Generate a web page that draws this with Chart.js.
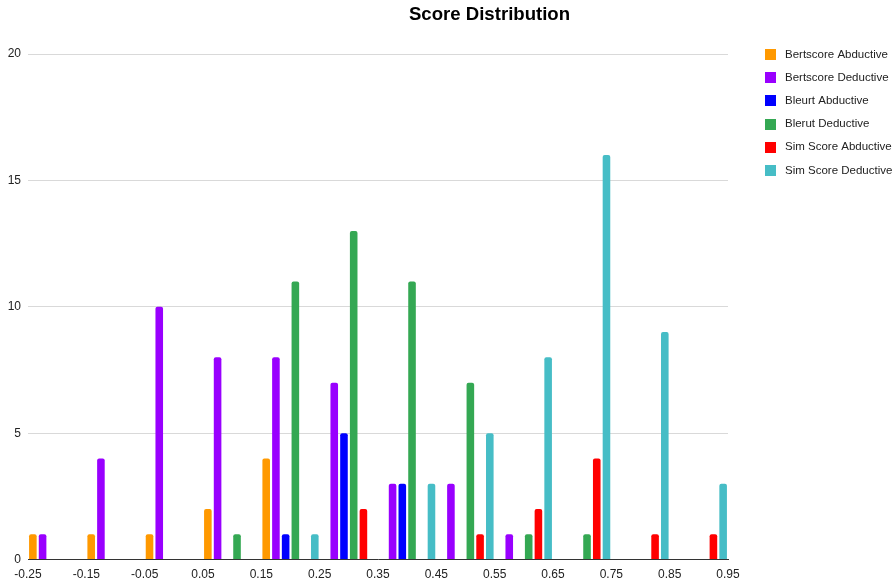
<!DOCTYPE html>
<html>
<head>
<meta charset="utf-8">
<script src="https://cdn.jsdelivr.net/npm/chart.js@4.4.1/dist/chart.umd.min.js"></script>
<style>
  html, body { margin: 0; padding: 0; background: #fff; }
  #wrap { width: 893px; height: 586px; position: relative; }
</style>
</head>
<body>
<div id="wrap"><canvas id="c" width="893" height="586"></canvas></div>
<script>
// Histogram bins (bin start values), 0.1 wide
const categories = ['-0.25', '-0.15', '-0.05', '0.05', '0.15', '0.25', '0.35', '0.45', '0.55', '0.65', '0.75', '0.85'];
// Tick labels at bin edges
const tickValues = [-0.25, -0.15, -0.05, 0.05, 0.15, 0.25, 0.35, 0.45, 0.55, 0.65, 0.75, 0.85, 0.95];

const seriesNames = ['Bertscore Abductive', 'Bertscore Deductive', 'Bleurt Abductive', 'Blerut Deductive', 'Sim Score Abductive', 'Sim Score Deductive'];
const seriesColors = ['#ff9900', '#9900ff', '#0000ff', '#34a853', '#ff0000', '#46bdc6'];

const bertscoreAbductive = [1, 1, 1, 2, 4, 0, 0, 0, 0, 0, 0, 0];
const bertscoreDeductive = [1, 4, 10, 8, 8, 7, 3, 3, 1, 0, 0, 0];
const bleurtAbductive    = [0, 0, 0, 0, 1, 5, 3, 0, 0, 0, 0, 0];
const blerutDeductive    = [0, 0, 0, 1, 11, 13, 11, 7, 1, 1, 0, 0];
const simScoreAbductive  = [0, 0, 0, 0, 0, 2, 0, 1, 2, 4, 1, 1];
const simScoreDeductive  = [0, 0, 0, 0, 1, 0, 3, 5, 8, 16, 9, 3];

const seriesValues = [bertscoreAbductive, bertscoreDeductive, bleurtAbductive, blerutDeductive, simScoreAbductive, simScoreDeductive];

const FONT = '"Liberation Sans", Arial, sans-serif';

const datasets = seriesNames.map((name, i) => ({
  label: name,
  data: seriesValues[i],
  backgroundColor: seriesColors[i],
  borderWidth: 0,
  borderRadius: { topLeft: 2, topRight: 2, bottomLeft: 0, bottomRight: 0 },
  borderSkipped: 'start',
  categoryPercentage: 1.0,
  barPercentage: 0.78,
  xAxisID: 'x'
}));

const titlePlugin = {
  id: 'customTitle',
  afterDraw(chart) {
    const ctx = chart.ctx;
    ctx.save();
    ctx.font = 'bold 18.6px ' + FONT;
    ctx.fillStyle = '#000';
    ctx.textAlign = 'center';
    ctx.textBaseline = 'middle';
    ctx.fillText('Score Distribution', 489.5, 15);
    ctx.restore();
  }
};

const legendPlugin = {
  id: 'customLegend',
  afterDraw(chart) {
    const ctx = chart.ctx;
    ctx.save();
    ctx.font = '11.5px ' + FONT;
    ctx.textBaseline = 'middle';
    ctx.textAlign = 'left';
    chart.data.datasets.forEach((ds, i) => {
      const cy = 54.5 + i * 23.2;
      ctx.fillStyle = ds.backgroundColor;
      ctx.fillRect(765, Math.round(cy - 5.5), 11, 11);
      ctx.fillStyle = '#222';
      ctx.fillText(ds.label, 785, cy);
    });
    ctx.restore();
  }
};

new Chart(document.getElementById('c'), {
  type: 'bar',
  data: { labels: categories, datasets },
  options: {
    responsive: false,
    animation: false,
    layout: { padding: { top: 54, right: 165, bottom: -4, left: 0 } },
    plugins: {
      legend: { display: false },
      title: { display: false },
      tooltip: { enabled: false }
    },
    scales: {
      x: {
        type: 'category',
        display: false,
        offset: true,
        grid: { display: false }
      },
      x2: {
        type: 'linear',
        position: 'bottom',
        offset: false,
        min: -0.25,
        max: 0.95,
        afterBuildTicks(scale) {
          scale.ticks = tickValues.map(v => ({ value: v }));
        },
        ticks: {
          autoSkip: false,
          maxRotation: 0,
          padding: 8,
          color: '#222',
          font: { family: FONT, size: 12 },
          callback: (v) => Number(v).toFixed(2)
        },
        grid: { display: false, drawTicks: false, offset: false },
        border: { display: true, color: '#333', width: 1 }
      },
      y: {
        min: 0,
        max: 20,
        ticks: {
          stepSize: 5,
          padding: 7,
          color: '#222',
          font: { family: FONT, size: 12 }
        },
        grid: { color: '#d9d9d9', drawTicks: false, lineWidth: 1 },
        border: { display: false },
        afterFit(scale) { scale.width = 28; }
      }
    }
  },
  plugins: [titlePlugin, legendPlugin]
});
</script>
</body>
</html>
